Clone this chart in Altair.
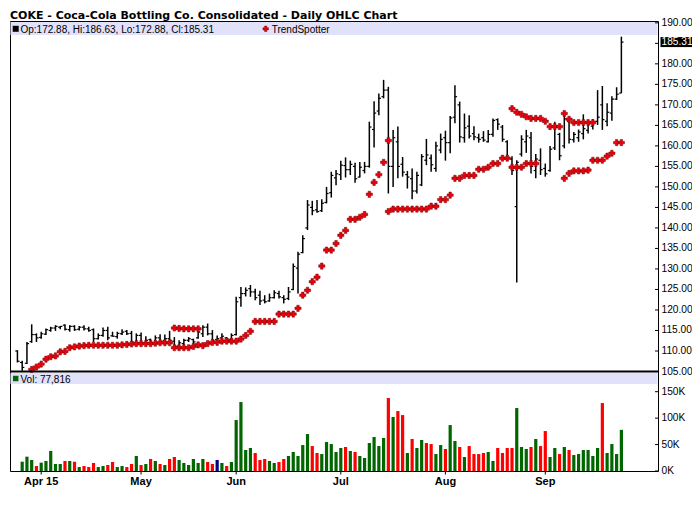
import altair as alt
import pandas as pd

title_text = "COKE - Coca-Cola Bottling Co. Consolidated - Daily OHLC Chart"

# bar positions (trading-day index, -1 = Mar 25 2015 ... 126 = Sep 24 2015)
bar_index = list(range(-1, 127))

opens = [110.0, 107.2, 107.0, 112.3, 114.0, 113.3, 114.1, 115.0, 115.6, 115.8,
         116.3, 115.2, 116.0, 115.3, 115.8, 115.4, 115.2, 113.0, 113.8, 115.0,
         113.7, 113.5, 114.2, 114.8, 114.3, 112.0, 113.8, 112.0, 112.8, 111.8,
         113.2, 112.5, 113.0, 112.4, 111.2, 111.8, 112.6, 112.8, 113.2, 114.2,
         115.8, 114.2, 112.8, 113.2, 113.2, 112.8, 114.0, 123.0, 124.0, 125.2,
         124.4, 123.6, 122.4, 122.2, 123.0, 124.0, 123.0, 122.8, 125.0, 130.2,
         134.0, 140.0, 145.0, 144.4, 144.2, 146.2, 148.6, 152.2, 153.0, 155.2,
         154.2, 155.0, 152.4, 154.0, 155.0, 164.0, 168.5, 172.0, 173.6, 155.0,
         161.0, 155.5, 153.0, 152.0, 149.0, 150.5, 156.5, 157.0, 154.5, 159.0,
         162.0, 160.8, 167.0, 170.0, 162.0, 164.8, 163.0, 162.0, 162.0, 161.0,
         162.8, 166.4, 164.6, 161.0, 156.8, 145.2, 158.0, 161.0, 162.0, 154.0,
         156.5, 154.5, 154.0, 159.5, 162.8, 160.0, 166.0, 161.5, 162.0, 163.0,
         163.8, 164.8, 166.0, 170.0, 166.0, 168.0, 171.4, 172.88]

highs = [110.2, 107.6, 112.2, 116.5, 114.3, 114.7, 115.5, 115.9, 116.3, 116.1,
         116.5, 116.3, 116.3, 116.1, 116.3, 115.9, 115.5, 114.3, 115.7, 115.9,
         114.7, 114.7, 115.3, 115.1, 114.9, 114.3, 114.5, 113.6, 113.0, 113.8,
         114.1, 114.0, 114.9, 113.4, 112.6, 113.0, 113.4, 113.0, 114.9, 116.3,
         116.7, 115.1, 113.8, 114.3, 113.4, 114.3, 123.2, 125.6, 125.5, 126.1,
         125.2, 124.7, 123.6, 124.0, 124.8, 124.7, 123.6, 125.6, 131.3, 134.2,
         138.2, 146.8, 146.6, 146.8, 147.0, 150.0, 153.7, 154.1, 156.4, 157.2,
         156.4, 155.9, 156.1, 156.1, 165.9, 170.9, 172.8, 176.1, 174.4, 163.9,
         164.7, 157.3, 153.9, 154.5, 153.7, 158.0, 161.7, 157.9, 161.0, 163.0,
         163.7, 167.3, 174.8, 170.8, 167.9, 167.5, 164.8, 163.0, 163.6, 163.9,
         166.7, 166.7, 165.1, 161.4, 157.5, 156.5, 162.6, 163.9, 163.4, 158.0,
         159.4, 155.7, 160.0, 165.9, 163.2, 168.3, 167.1, 163.4, 164.0, 167.7,
         166.3, 166.5, 173.6, 174.6, 170.4, 172.1, 174.3, 186.63]

lows = [107.2, 105.2, 106.8, 112.0, 112.2, 113.0, 113.9, 114.7, 114.9, 115.3,
        115.0, 114.7, 114.9, 115.0, 115.0, 114.7, 112.2, 112.8, 113.5, 112.6,
        113.5, 113.0, 113.9, 113.9, 111.6, 111.4, 111.4, 111.6, 111.4, 111.4,
        111.6, 111.8, 112.2, 110.6, 110.8, 111.4, 112.2, 111.4, 113.0, 113.4,
        113.8, 112.2, 112.6, 113.0, 112.6, 112.6, 113.8, 120.8, 123.3, 123.2,
        122.4, 121.2, 121.6, 122.0, 122.8, 122.8, 121.6, 122.4, 124.8, 124.0,
        133.8, 139.5, 143.1, 143.7, 143.9, 146.0, 147.4, 150.4, 151.7, 152.3,
        152.9, 151.0, 152.3, 153.3, 154.7, 159.6, 167.5, 171.6, 148.4, 150.0,
        152.1, 152.5, 149.6, 147.0, 148.4, 150.2, 155.3, 153.7, 153.7, 158.2,
        156.4, 158.2, 165.5, 160.8, 160.8, 161.8, 161.4, 160.8, 161.0, 160.8,
        162.2, 163.9, 161.0, 156.5, 152.9, 126.7, 157.4, 158.3, 153.3, 152.1,
        152.9, 152.5, 153.7, 159.0, 156.5, 159.4, 160.6, 160.8, 161.0, 161.6,
        163.0, 164.0, 165.1, 163.9, 164.8, 166.1, 171.2, 172.88]

closes = [107.5, 106.0, 111.8, 114.0, 113.2, 114.2, 115.2, 115.6, 116.0, 116.0,
          115.3, 116.0, 115.2, 115.8, 115.4, 115.0, 113.0, 113.8, 115.0, 113.2,
          113.6, 114.3, 114.6, 114.2, 112.2, 113.8, 112.0, 112.6, 111.8, 113.2,
          112.4, 113.0, 112.6, 111.2, 112.0, 112.6, 113.0, 112.2, 114.6, 115.8,
          114.2, 112.6, 113.0, 113.6, 112.9, 113.8, 122.0, 124.0, 124.8, 124.4,
          123.0, 122.2, 122.0, 123.0, 124.2, 123.2, 122.6, 124.4, 130.6, 133.6,
          137.4, 145.6, 144.2, 144.0, 146.0, 148.4, 152.8, 153.2, 155.3, 154.2,
          155.5, 152.0, 154.8, 155.0, 164.6, 168.0, 171.6, 173.6, 155.0, 162.0,
          155.0, 153.6, 152.4, 149.0, 152.8, 157.4, 157.8, 155.4, 160.0, 161.6,
          160.8, 166.8, 172.0, 162.2, 164.4, 162.4, 162.2, 161.6, 161.4, 162.8,
          166.2, 165.3, 161.6, 157.2, 154.0, 156.0, 161.6, 162.4, 155.0, 156.8,
          154.2, 153.2, 159.2, 164.5, 157.6, 166.6, 161.6, 162.8, 163.4, 164.2,
          165.3, 165.8, 167.0, 166.4, 168.2, 171.4, 172.6, 185.31]

volumes = [None, 17600, 27100, 20800, 9400, 15800, 18900, 37800, 13200, 13200,
           18900, 18900, 17600, 7500, 9400, 7500, 15200, 7500, 9400, 11400,
           17000, 7500, 9400, 7500, 13200, 28400, 11400, 13200, 22700, 18900,
           13200, 11400, 22700, 26500, 20800, 15200, 11400, 22700, 15200, 22700,
           17000, 13200, 20800, 15200, 9400, 17000, 96400, 130400, 39700, 43500,
           34000, 20800, 22700, 18900, 15200, 17000, 22700, 28400, 35900, 28400,
           49100, 69900, 47200, 34000, 32100, 54800, 51000, 35900, 43500, 45400,
           37800, 35900, 28400, 24600, 52900, 64300, 47200, 62400, 138000, 102100,
           113400, 105800, 34000, 60500, 43500, 58600, 52900, 51000, 32100, 49100,
           41600, 86900, 56700, 45400, 26500, 47200, 32100, 32100, 34000, 35900,
           18900, 43500, 34000, 43500, 43500, 119100, 45400, 41600, 45400, 60500,
           47200, 75600, 26500, 43500, 32100, 45400, 39700, 30200, 32100, 39700,
           39700, 28400, 43500, 128500, 34000, 51000, 32100, 77816]

vol_dir = [None, "g", "g", "g", "r", "g", "g", "g", "g", "g",
           "r", "g", "r", "g", "r", "r", "r", "g", "g", "r",
           "r", "g", "g", "r", "r", "g", "r", "g", "r", "g",
           "r", "g", "r", "r", "g", "g", "g", "g", "g", "g",
           "r", "r", "b", "g", "r", "g", "g", "g", "g", "g",
           "r", "r", "r", "g", "g", "r", "r", "g", "g", "g",
           "g", "g", "r", "r", "g", "g", "g", "g", "g", "r",
           "g", "r", "g", "g", "g", "g", "g", "g", "r", "g",
           "r", "r", "g", "r", "g", "g", "r", "r", "g", "g",
           "r", "g", "g", "r", "g", "r", "r", "r", "r", "g",
           "g", "r", "r", "r", "r", "g", "g", "g", "r", "g",
           "r", "r", "g", "g", "r", "g", "r", "g", "g", "g",
           "g", "g", "g", "r", "g", "g", "g", "g"]

ts_lower = [None, None, None, 105.5, 106.1, 106.8, 108.0, 108.6, 108.8, 109.8,
            109.9, 110.8, 111.0, 111.2, 111.3, 111.4, 111.4, 111.4, 111.4, 111.4,
            111.4, 111.4, 111.5, 111.6, 111.7, 111.8, 111.8, 111.8, 111.8, 111.9,
            112.0, 112.0, 112.0, 110.8, 110.8, 110.8, 110.8, 111.1, 111.5, 111.3,
            111.8, 112.1, 112.1, 112.4, 112.4, 112.4, 112.4, 112.9, 113.8, 114.8,
            117.2, 117.2, 117.2, 117.2, 117.2, 119.0, 119.0, 119.0, 119.0, 120.4,
            123.6, 124.8, 126.9, 128.0, 130.7, 134.6, 134.6, 136.2, 138.2, 139.4,
            142.1, 142.1, 142.6, 143.3, 148.2, 151.1, 153.0, 156.0, 144.0, 144.6,
            144.6, 144.6, 144.6, 144.6, 144.6, 144.6, 144.6, 145.3, 145.3, 146.9,
            146.9, 148.0, 152.1, 152.1, 152.8, 152.8, 152.8, 154.3, 154.3, 154.8,
            155.7, 155.7, 157.0, 157.0, 154.8, 154.8, 154.8, 155.7, 155.7, 155.7,
            None, None, None, None, None, 152.1, 153.3, 153.9, 153.9, 153.9,
            154.1, 156.5, 156.5, 156.5, 157.5, 158.2, 160.8, 160.8]

ts_upper_index = [32, 33, 34, 35, 36, 37, 77,
                  103, 104, 105, 106, 107, 108, 109, 110, 111, 112, 113,
                  114, 115, 116, 117, 118, 119, 120]
ts_upper_value = [115.6, 115.5, 115.4, 115.4, 115.4, 115.4, 161.3,
                  169.1, 168.2, 167.7, 167.1, 166.7, 166.7, 166.7, 166.0, 164.7, 164.7, 164.7,
                  167.9, 166.5, 165.7, 165.7, 165.7, 165.7, 165.7]

price_ticks = [105, 110, 115, 120, 125, 130, 135, 140, 145, 150,
               155, 160, 165, 170, 175, 180, 185, 190]
vol_ticks = [0, 50000, 100000, 150000]
month_pos = [4, 25, 45, 67, 89, 110]
month_labels = ["Apr 15", "May", "Jun", "Jul", "Aug", "Sep"]

# ---------------------------------------------------------------- layout
W = 648          # plot width
HP = 350.5       # price pane height
HV = 99.5        # volume pane height
H = HP + HV
FONT = "Liberation Sans"
BAND = "#E1E1FA"

PX_PER_DOLLAR = 4.1019
P_BOT = 105.0
P_TOP = P_BOT + HP / PX_PER_DOLLAR         # price pane range
V_TOP = 188200                              # volume pane range top
p_lo = P_BOT - HV / PX_PER_DOLLAR           # extend price scale over volume pane
v_hi = V_TOP * H / HV                       # extend volume scale over price pane

ohlc = pd.DataFrame({"i": bar_index, "open": opens, "high": highs,
                     "low": lows, "close": closes})
vol_df = pd.DataFrame({"i": bar_index, "vol": volumes, "dir": vol_dir}).dropna()
ts_df = pd.concat([
    pd.DataFrame({"i": bar_index, "ts": ts_lower}),
    pd.DataFrame({"i": ts_upper_index, "ts": ts_upper_value}),
]).dropna()
month_df = pd.DataFrame({"i": month_pos, "t": month_labels})

xscale = alt.Scale(domain=[-1.51, 132.65], nice=False, zero=False)
pscale = alt.Scale(domain=[p_lo, P_TOP], nice=False, zero=False)
vscale = alt.Scale(domain=[0, v_hi], nice=False, zero=True)

last_close = closes[-1]
plab_df = pd.DataFrame({"v": [v for v in price_ticks if abs(v - last_close) > 2]})
plab_df["t"] = [f"{v:.2f}" for v in plab_df["v"]]
vlab_df = pd.DataFrame({"v": vol_ticks, "t": [f"{v // 1000}K" for v in vol_ticks]})

NOX = alt.X("i:Q", scale=xscale, axis=None)


def py(field):
    return alt.Y(field, scale=pscale, axis=None)


def vy(field):
    return alt.Y(field, scale=vscale, axis=None)


base = alt.Chart(ohlc)
hl = base.mark_rule(color="black", strokeWidth=1.5).encode(
    x=NOX, y=py("low:Q"), y2="high:Q")
op = base.transform_calculate(xo="datum.i - 0.45").mark_rule(
    color="black", strokeWidth=1.2).encode(
    x=alt.X("xo:Q", scale=xscale, axis=None), x2="i:Q", y=py("open:Q"))
cl = base.transform_calculate(xc="datum.i + 0.45").mark_rule(
    color="black", strokeWidth=1.2).encode(
    x=NOX, x2="xc:Q", y=py("close:Q"))

ts = alt.Chart(ts_df).mark_point(shape="cross", filled=True, size=38, fill="#E8000B",
                                 stroke="#7A0000", strokeWidth=0.5, opacity=1).encode(
    x=NOX, y=py("ts:Q"))

title_df = pd.DataFrame({"t": [title_text]})
title = alt.Chart(title_df).mark_text(align="left", baseline="alphabetic",
                                      font="DejaVu Sans", fontSize=11, fontWeight="bold",
                                      color="black").encode(
    x=alt.value(0), y=alt.value(-2.4), text="t:N")

leg_df = pd.DataFrame({"t": [f"Op:{opens[-1]:.2f}, Hi:{highs[-1]:.2f}, "
                             f"Lo:{lows[-1]:.2f}, Cl:{closes[-1]:.2f}"]})
band = alt.Chart(leg_df).mark_rect(color=BAND).encode(
    x=alt.value(0.5), x2=alt.value(W - 0.5), y=alt.value(1), y2=alt.value(14))
sq = alt.Chart(leg_df).mark_square(color="black", size=36, opacity=1).encode(
    x=alt.value(5.7), y=alt.value(7.8))
leg_text = alt.Chart(leg_df).mark_text(align="left", baseline="alphabetic", font=FONT,
                                       fontSize=10, color="black").encode(
    x=alt.value(10.5), y=alt.value(11.6), text="t:N")
tsl_df = pd.DataFrame({"t": ["TrendSpotter"]})
ts_leg_pt = alt.Chart(tsl_df).mark_point(shape="cross", filled=True, size=30, fill="#E8000B",
                                         stroke="#7A0000", strokeWidth=0.5, opacity=1).encode(
    x=alt.value(255.7), y=alt.value(7.8))
ts_leg_text = alt.Chart(tsl_df).mark_text(align="left", baseline="alphabetic", font=FONT,
                                          fontSize=10, color="black").encode(
    x=alt.value(261.7), y=alt.value(11.6), text="t:N")

ptick = alt.Chart(pd.DataFrame({"v": price_ticks})).mark_rule(
    color="black", strokeWidth=1).encode(
    x=alt.value(W - 3), x2=alt.value(W), y=py("v:Q"))
plabels = alt.Chart(plab_df).mark_text(align="left", baseline="middle", font=FONT,
                                       fontSize=10.2, color="black").encode(
    x=alt.value(W + 3.5), y=py("v:Q"), text="t:N")

last_df = ohlc.tail(1)
hbox = alt.Chart(last_df).mark_rule(color="black", strokeWidth=10).encode(
    x=alt.value(W + 2.5), x2=alt.value(W + 34), y=py("close:Q"))
htext = alt.Chart(last_df).mark_text(align="left", baseline="middle", font=FONT,
                                     fontSize=10.2, color="white").encode(
    x=alt.value(W + 3.5), y=py("close:Q"), text=alt.Text("close:Q", format=".2f"))

bline = alt.Chart(leg_df).mark_rule(color="black", strokeWidth=2).encode(
    x=alt.value(0), x2=alt.value(W), y=alt.value(HP))

# ---------------------------------------------------------------- volume
bars = alt.Chart(vol_df).mark_bar(size=3.2).encode(
    x=NOX,
    y=vy("vol:Q"),
    color=alt.Color("dir:N", scale=alt.Scale(domain=["g", "r", "b"],
                                             range=["#006600", "#FF0000", "#000080"]),
                    legend=None))

vleg_df = pd.DataFrame({"t": [f"Vol: {volumes[-1]:,}"]})
vband = alt.Chart(vleg_df).mark_rect(color=BAND).encode(
    x=alt.value(0.5), x2=alt.value(W - 0.5), y=alt.value(HP + 1.5), y2=alt.value(HP + 12.5))
vsq = alt.Chart(vleg_df).mark_square(color="#006600", size=30, opacity=1).encode(
    x=alt.value(5.7), y=alt.value(HP + 7))
vtext = alt.Chart(vleg_df).mark_text(align="left", baseline="alphabetic", font=FONT,
                                     fontSize=10, color="black").encode(
    x=alt.value(10.5), y=alt.value(HP + 11), text="t:N")
vtick = alt.Chart(vlab_df).mark_rule(color="black", strokeWidth=1).encode(
    x=alt.value(W - 3), x2=alt.value(W), y=vy("v:Q"))
vlabels = alt.Chart(vlab_df).mark_text(align="left", baseline="middle", font=FONT,
                                       fontSize=10.2, color="black").encode(
    x=alt.value(W + 3.5), y=vy("v:Q"), text="t:N")

# ---------------------------------------------------------------- month axis
mtick = alt.Chart(month_df).mark_rule(color="black", strokeWidth=1).encode(
    x=NOX, y=alt.value(H), y2=alt.value(H + 3.5))
mlabels = alt.Chart(month_df).mark_text(align="center", baseline="top", font=FONT,
                                        fontSize=11, fontWeight="bold",
                                        color="black").encode(
    x=NOX, y=alt.value(H + 5), text="t:N")

chart = alt.layer(
    band, vband, hl, op, cl, ts, bars,
    sq, leg_text, ts_leg_pt, ts_leg_text, vsq, vtext,
    ptick, plabels, vtick, vlabels, hbox, htext, bline, mtick, mlabels, title,
).resolve_scale(y="independent").properties(
    width=W, height=H,
    padding={"left": 2, "top": 13, "right": 34, "bottom": 18},
    autosize=alt.AutoSizeParams(type="none"),
    background="white",
).configure_view(stroke="black", strokeWidth=1)

chart.save("out.html", embed_options={"renderer": "svg", "actions": False})
